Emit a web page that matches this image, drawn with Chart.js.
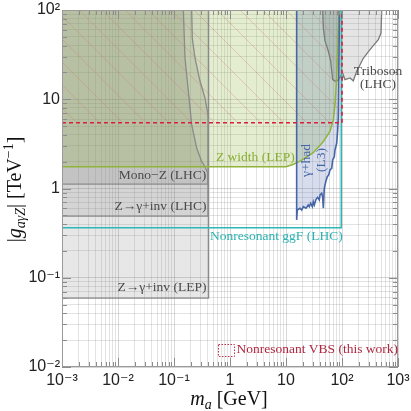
<!DOCTYPE html>
<html><head><meta charset="utf-8">
<script src="https://cdn.jsdelivr.net/npm/chart.js@4/dist/chart.umd.min.js"></script>
<style>html,body{margin:0;padding:0;background:#fff}</style>
</head><body>
<canvas id="c" width="411" height="411"></canvas>
<script>
// ---- axis ticks ----
const xTickValues = [1e-3, 1e-2, 1e-1, 1, 10, 100, 1000];
const xTickLabels = ['10⁻³', '10⁻²', '10⁻¹', '1', '10', '10²', '10³'];
const yTickValues = [1e-2, 1e-1, 1, 10, 100];
const yTickLabels = ['10⁻²', '10⁻¹', '1', '10', '10²'];

// ---- regions: [m_a (GeV), |g_aγZ| (TeV^-1)] ----
const zInvLEP = [[1e-3,0.059],[0.415,0.059],[0.415,100]];
const zInvLHC = [[1e-3,0.49],[0.405,0.49],[0.405,6.7],[0.358,10.3],[0.291,16],[0.237,29],[0.212,48.5],[0.207,100]];
const monoZ = [[1e-3,1.12],[0.4,1.12],[0.4,1.5],[0.35,1.8],[0.313,2.0],[0.254,2.84],[0.207,5.19],[0.18,12.4],[0.157,29],[0.147,100]];
const zWidthLEP = [[1e-3,1.755],[10,1.755],[13.3,1.86],[17.8,2.03],[30.3,2.5],[45.8,3.32],[61,4.35],[70,5.85],[75,8.6],[79.8,16.5],[84.8,46],[88.3,100]];
const gammaHadL3 = [[15.5,100],[15.5,0.443],[15.9,0.574],[17.8,0.6],[19.1,0.574],[20.4,0.625],[22.8,0.6],[25,0.653],[26.1,0.625],[27.6,0.683],[29.5,0.625],[30.7,0.711],[32,0.653],[34.4,0.757],[36.8,0.796],[39.3,0.743],[40.5,0.846],[43.4,0.883],[45.2,0.796],[46.4,0.6],[48.3,1.005],[51.2,1.19],[54.6,1.355],[57.9,1.417],[61.1,1.61],[65.5,1.68],[68.2,2.09],[72.9,2.27],[75,2.7],[80.4,3.21],[83.8,4.52],[85.9,6.37],[90.2,100]];
const triboson = [[45.2,100],[46.4,62.8],[49.7,45],[56.9,34.8],[62.8,26.8],[65.5,20.7],[68.2,16.6],[75,16],[83.2,16.2],[94.9,18.2],[100,16.4],[105.5,18.8],[113,16.6],[139,17.3],[159,16.1],[183,20.6],[210,24.4],[240,28.8],[316,35.9],[445,46.5],[497,55.2],[512,100]];
const ggF = [[1e-3,0.364],[97,0.364],[97,100]];
const vbs = [[1e-3,5.46],[100,5.46],[100,100]];

const SERIF = "'Liberation Serif','DejaVu Serif',serif";
const SANS = "'Liberation Sans','DejaVu Sans',sans-serif";

function hatchPattern() {
  const s = 23, c = document.createElement('canvas');
  c.width = s; c.height = s;
  const g = c.getContext('2d');
  g.strokeStyle = 'rgba(205,115,105,0.38)'; g.lineWidth = 0.8;
  g.beginPath();
  g.moveTo(-2,-2); g.lineTo(s+2,s+2);
  g.moveTo(s-2,-2); g.lineTo(s+2,2);
  g.moveTo(-2,s-2); g.lineTo(2,s+2);
  g.stroke();
  return g.createPattern(c, 'repeat');
}

function gridValues(e0, e1) {
  const out = [];
  for (let e = e0; e < e1; e++) for (let m = 1; m <= 9; m++) out.push(Number((m * Math.pow(10, e)).toPrecision(10)));
  out.push(Math.pow(10, e1));
  return out;
}
function isDecade(v) { const l = Math.log10(v); return Math.abs(l - Math.round(l)) < 1e-9; }
function labelFor(v, vals, labels) {
  for (let i = 0; i < vals.length; i++) if (Math.abs(Math.log10(v) - Math.log10(vals[i])) < 1e-9) return labels[i];
  return '';
}

function region(points, opts) {
  return Object.assign({
    type: 'line', data: points.map(([x, y]) => ({x, y})),
    pointRadius: 0, pointHoverRadius: 0, tension: 0,
    borderWidth: 0, borderColor: 'transparent', fill: false
  }, opts);
}

function drawRich(ctx, parts, x, y, align) {
  let w = 0;
  for (const p of parts) { ctx.font = p.f; w += ctx.measureText(p.t).width; }
  let cx = align === 'center' ? x - w / 2 : (align === 'right' ? x - w : x);
  ctx.textAlign = 'left'; ctx.textBaseline = 'alphabetic';
  for (const p of parts) {
    ctx.font = p.f;
    ctx.fillText(p.t, cx, y + (p.dy || 0));
    cx += ctx.measureText(p.t).width;
  }
}

const decorations = {
  id: 'decorations',
  afterDatasetsDraw(chart) {
    const {ctx, chartArea: a, scales: {x, y}} = chart;
    ctx.save();
    // inward ticks on all four sides
    ctx.strokeStyle = '#8c8c8c'; ctx.lineWidth = 1;
    ctx.beginPath();
    for (const v of gridValues(-3, 3)) {
      const px = Math.round(x.getPixelForValue(v)) + 0.5;
      const L = isDecade(v) ? 9 : 5;
      ctx.moveTo(px, a.bottom); ctx.lineTo(px, a.bottom - L);
      ctx.moveTo(px, a.top); ctx.lineTo(px, a.top + L);
    }
    for (const v of gridValues(-2, 2)) {
      const py = Math.round(y.getPixelForValue(v)) + 0.5;
      const L = isDecade(v) ? 9 : 5;
      ctx.moveTo(a.left, py); ctx.lineTo(a.left + L, py);
      ctx.moveTo(a.right, py); ctx.lineTo(a.right - L, py);
    }
    ctx.stroke();
    ctx.strokeStyle = '#9a9a9a';
    ctx.strokeRect(Math.round(a.left) + 0.5, Math.round(a.top) + 0.5, Math.round(a.right - a.left) - 1, Math.round(a.bottom - a.top) - 1);

    // region labels
    const f13 = '13.5px ' + SERIF;
    ctx.fillStyle = '#4a4a4a';
    drawRich(ctx, [{t: 'Mono−Z (LHC)', f: f13}], 162.5, 179, 'center');
    drawRich(ctx, [{t: 'Z→γ+inv (LHC)', f: f13}], 160.5, 210, 'center');
    drawRich(ctx, [{t: 'Z→γ+inv (LEP)', f: f13}], 162, 291, 'center');
    drawRich(ctx, [{t: 'Triboson', f: f13}], 378, 75, 'center');
    drawRich(ctx, [{t: '(LHC)', f: f13}], 378, 88, 'center');
    ctx.fillStyle = '#8aae35';
    drawRich(ctx, [{t: 'Z width (LEP)', f: f13}], 216, 160.5, 'left');
    ctx.fillStyle = '#2bb3b3';
    drawRich(ctx, [{t: 'Nonresonant ggF (LHC)', f: f13}], 210, 239.5, 'left');
    ctx.fillStyle = '#b02840';
    drawRich(ctx, [{t: 'Nonresonant VBS (this work)', f: f13}], 236.5, 353, 'left');
    ctx.strokeStyle = '#c03048'; ctx.lineWidth = 1; ctx.setLineDash([1.5, 1.5]);
    ctx.strokeRect(218.5, 344.5, 16, 12);
    ctx.setLineDash([]);
    // γ+had (L3), rotated
    ctx.fillStyle = '#4766a8';
    ctx.save(); ctx.translate(309.5, 160.5); ctx.rotate(-Math.PI / 2);
    drawRich(ctx, [{t: 'γ+had', f: f13}], 0, 0, 'center');
    ctx.restore();
    ctx.save(); ctx.translate(325, 160); ctx.rotate(-Math.PI / 2);
    drawRich(ctx, [{t: '(L3)', f: f13}], 0, 0, 'center');
    ctx.restore();

    // axis titles
    ctx.fillStyle = '#111';
    const F = '20px ' + SERIF, FI = 'italic 20px ' + SERIF, FS = '14px ' + SERIF, FSI = 'italic 14px ' + SERIF;
    drawRich(ctx, [{t: 'm', f: FI}, {t: 'a', f: FSI, dy: 4}, {t: ' [GeV]', f: F}], 229, 405, 'center');
    ctx.save(); ctx.translate(21, 189.5); ctx.rotate(-Math.PI / 2);
    drawRich(ctx, [{t: '|', f: F}, {t: 'g', f: FI}, {t: 'aγZ', f: FSI, dy: 4}, {t: '| [TeV', f: F}, {t: '−1', f: FS, dy: -8}, {t: ']', f: F}], 0, 0, 'center');
    ctx.restore();
    ctx.restore();
  }
};

const gridColor = c => (c.tick && isDecade(c.tick.value)) ? 'rgba(0,0,0,0.16)' : 'rgba(0,0,0,0.11)';

new Chart(document.getElementById('c'), {
  type: 'line',
  data: {
    datasets: [
      region(vbs, {borderColor: '#d6203c', borderWidth: 1.6, borderDash: [4, 3]}),
      region(ggF, {borderColor: '#2db7b7', borderWidth: 1.5}),
      region(gammaHadL3, {borderColor: '#4766a8', borderWidth: 1.6}),
      region(zWidthLEP, {borderColor: '#8fb33b', borderWidth: 1.5}),
      region(triboson, {borderColor: '#7a7a7a', borderWidth: 1.3}),
      region(monoZ, {borderColor: '#8a8a8a', borderWidth: 1.3}),
      region(zInvLHC, {borderColor: '#8a8a8a', borderWidth: 1.3}),
      region(zInvLEP, {borderColor: '#8a8a8a', borderWidth: 1.3}),
      region(vbs, {fill: 'end', backgroundColor: hatchPattern()}),
      region(gammaHadL3, {fill: 'end', backgroundColor: 'rgba(71,102,168,0.22)'}),
      region(zWidthLEP, {fill: 'end', backgroundColor: 'rgba(143,179,59,0.24)'}),
      region(triboson, {fill: 'end', backgroundColor: 'rgba(120,120,120,0.2)'}),
      region(monoZ.concat([[1e-3, 100]]), {fill: 'shape', backgroundColor: 'rgba(120,120,120,0.18)'}),
      region(zInvLHC.concat([[1e-3, 100]]), {fill: 'shape', backgroundColor: 'rgba(120,120,120,0.18)'}),
      region(zInvLEP, {fill: 'end', backgroundColor: 'rgba(120,120,120,0.18)'})
    ]
  },
  options: {
    responsive: false, animation: false, devicePixelRatio: 1,
    layout: {padding: {left: 0, right: 13, top: 10, bottom: 0}},
    plugins: {legend: {display: false}, tooltip: {enabled: false}},
    scales: {
      x: {
        type: 'logarithmic', min: 1e-3, max: 1e3, position: 'bottom',
        afterBuildTicks: s => { s.ticks = gridValues(-3, 3).map(v => ({value: v})); },
        afterFit: s => { s.height = 44; s.paddingLeft = 0; s.paddingRight = 0; },
        ticks: {autoSkip: false, maxRotation: 0, minRotation: 0, padding: 4, color: '#222',
          font: {family: SANS, size: 16}, callback: v => labelFor(v, xTickValues, xTickLabels)},
        grid: {color: gridColor, lineWidth: 1, drawTicks: false},
        border: {display: false}
      },
      y: {
        type: 'logarithmic', min: 1e-2, max: 1e2, position: 'left',
        afterBuildTicks: s => { s.ticks = gridValues(-2, 2).map(v => ({value: v})); },
        afterFit: s => { s.width = 62; s.paddingTop = 0; s.paddingBottom = 0; },
        ticks: {autoSkip: false, padding: 2, color: '#222',
          font: {family: SANS, size: 16}, callback: v => labelFor(v, yTickValues, yTickLabels)},
        grid: {color: gridColor, lineWidth: 1, drawTicks: false},
        border: {display: false}
      }
    }
  },
  plugins: [decorations]
});
</script>
</body></html>
